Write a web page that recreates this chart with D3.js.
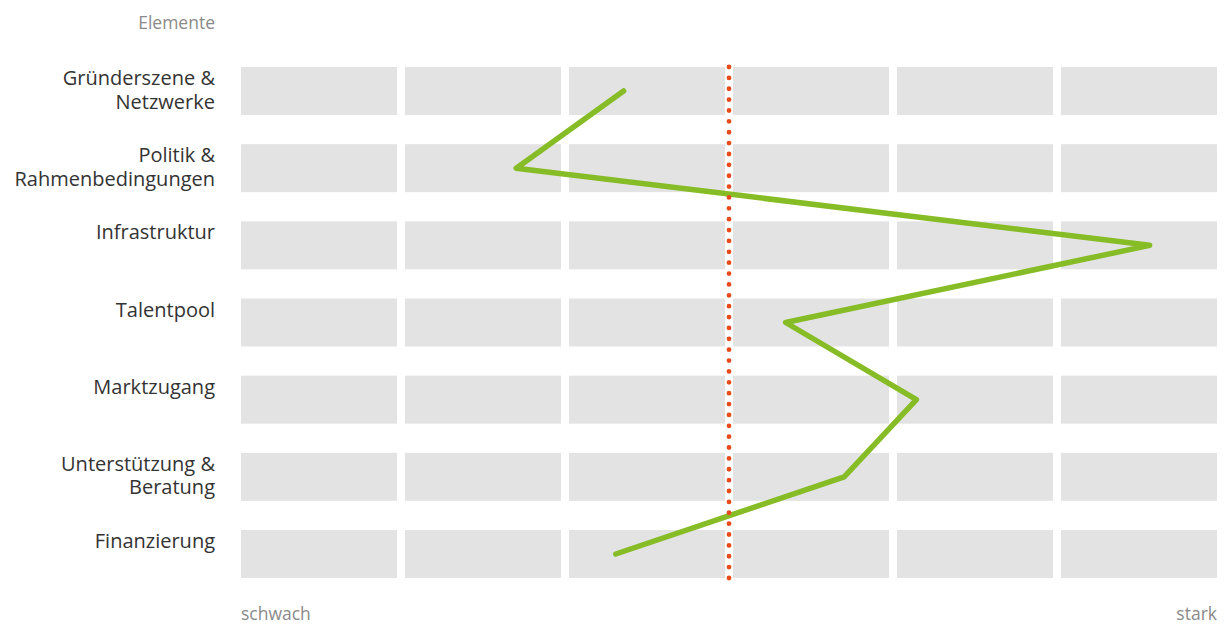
<!DOCTYPE html>
<html>
<head>
<meta charset="utf-8">
<style>
body { margin: 0; background: #fff; font-family: 'Open Sans', Lato, sans-serif; }
</style>
</head>
<body>
<svg width="1225" height="624"></svg>
<script src="https://cdn.jsdelivr.net/npm/d3@7/dist/d3.min.js"></script>
<script>

// data
var categories = [
  ["Gründerszene &", "Netzwerke"],
  ["Politik &", "Rahmenbedingungen"],
  ["Infrastruktur"],
  ["Talentpool"],
  ["Marktzugang"],
  ["Unterstützung &", "Beratung"],
  ["Finanzierung"]
];
var scores = [39.2, 28.2, 93.1, 55.8, 69.2, 61.8, 38.4]; // 0 = schwach, 100 = stark
var reference = 50;
var columns = d3.range(6);

var svg = d3.select("svg");

var x = d3.scaleLinear().domain([0, 100]).range([241, 1217]);
var y = d3.scaleBand().domain(d3.range(categories.length))
    .range([67, 578]).paddingInner(0.378).paddingOuter(0);
var col = d3.scaleBand().domain(columns).range([241, 1217]).paddingInner(8 / 164).paddingOuter(0);

// grey background cells
var rows = svg.append("g").selectAll("g")
    .data(categories)
  .enter().append("g")
    .attr("transform", function(d, i) { return "translate(0," + y(i) + ")"; });

rows.selectAll("rect")
    .data(columns)
  .enter().append("rect")
    .attr("x", function(d) { return col(d); })
    .attr("width", col.bandwidth())
    .attr("height", y.bandwidth())
    .attr("fill", "#e3e3e3");

// row labels
rows.append("text")
    .attr("text-anchor", "end")
    .attr("x", 215)
    .attr("fill", "#333")
    .style("font-size", "20px")
  .selectAll("tspan")
    .data(function(d) { return d; })
  .enter().append("tspan")
    .attr("x", 215)
    .attr("y", function(d, i) { return 18 + i * 23.5; })
    .text(function(d) { return d; });

// white gap behind the reference line
svg.append("line")
    .attr("x1", x(reference)).attr("x2", x(reference))
    .attr("y1", 67).attr("y2", 578)
    .attr("stroke", "#fff").attr("stroke-width", 8);

// profile line
var line = d3.line()
    .x(function(d) { return x(d); })
    .y(function(d, i) { return y(i) + y.bandwidth() / 2; });

svg.append("path")
    .datum(scores)
    .attr("d", line)
    .attr("fill", "none")
    .attr("stroke", "#86bc25")
    .attr("stroke-width", 5.5)
    .attr("stroke-linecap", "round")
    .attr("stroke-linejoin", "round");

// dotted reference line
svg.append("line")
    .attr("x1", x(reference)).attr("x2", x(reference))
    .attr("y1", 67).attr("y2", 578.02)
    .attr("stroke", "#e84a1c")
    .attr("stroke-width", 4.8)
    .attr("stroke-linecap", "round")
    .attr("stroke-dasharray", "0.01 10.862");

// annotations
svg.append("text")
    .attr("x", 215).attr("y", 29)
    .attr("text-anchor", "end")
    .attr("fill", "#8a8a8a")
    .style("font-size", "17.5px")
    .text("Elemente");

svg.append("text")
    .attr("x", 241).attr("y", 620)
    .attr("fill", "#8a8a8a")
    .style("font-size", "17.5px")
    .text("schwach");

svg.append("text")
    .attr("x", 1217).attr("y", 620)
    .attr("text-anchor", "end")
    .attr("fill", "#8a8a8a")
    .style("font-size", "17.5px")
    .text("stark");

</script>
</body>
</html>
